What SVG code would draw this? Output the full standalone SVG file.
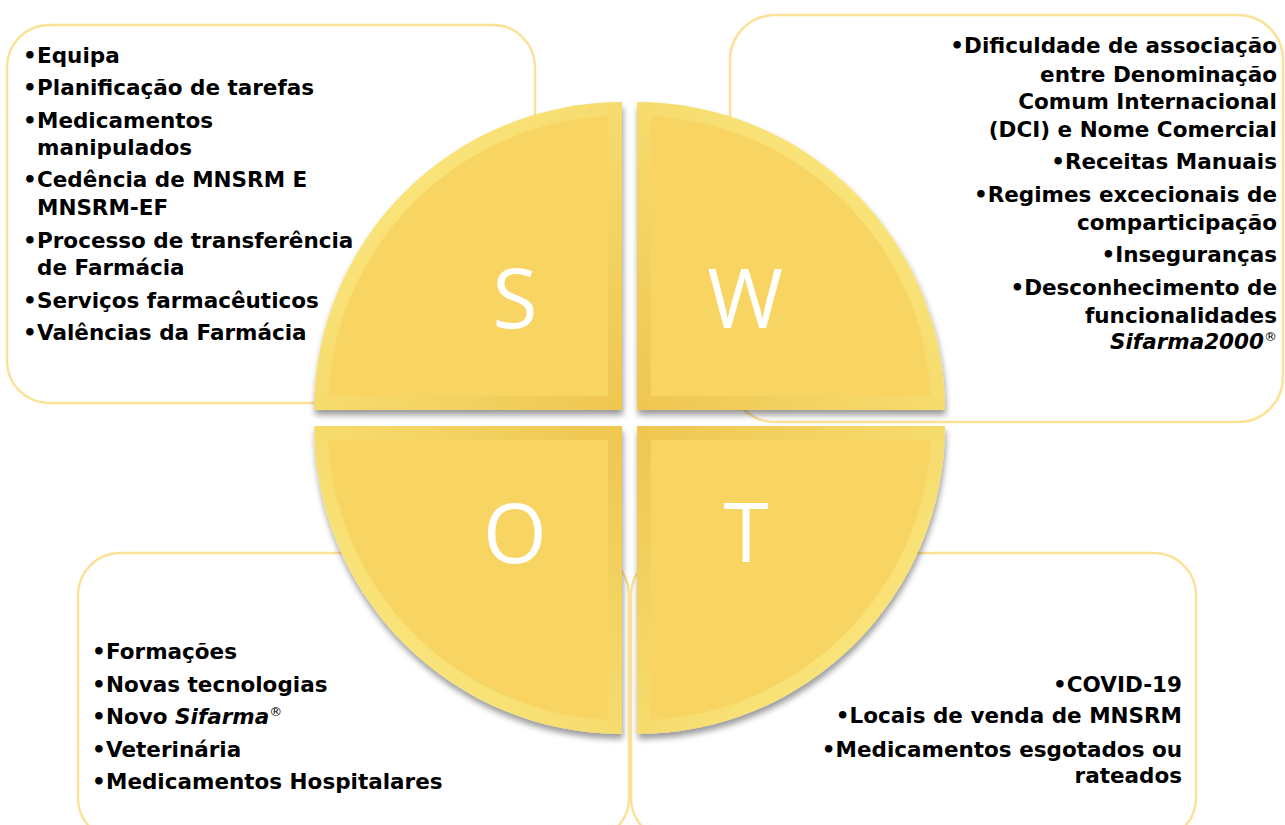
<svg xmlns="http://www.w3.org/2000/svg" width="1285" height="825" viewBox="0 0 1285 825">
<defs>
<style>
.box{fill:#fff;stroke:#FCE298;stroke-width:2.5}
.rim{stroke:none}
.face{fill:#F8D462}
.big{font-family:"Open Sans","Liberation Sans",sans-serif;font-size:82px;fill:#fff;text-anchor:middle}
.t{font-family:"DejaVu Sans","Liberation Sans",sans-serif;font-weight:bold;font-size:21.5px;fill:#000}
.r{text-anchor:end}
.it{font-style:italic}
.sup{font-size:13px;font-weight:normal}
</style>
<filter id="sh" x="-10%" y="-10%" width="120%" height="125%">
<feGaussianBlur in="SourceAlpha" stdDeviation="3"/>
<feOffset dx="1" dy="5" result="b"/>
<feComponentTransfer><feFuncA type="linear" slope="0.4"/></feComponentTransfer>
<feMerge><feMergeNode/><feMergeNode in="SourceGraphic"/></feMerge>
</filter>
<linearGradient id="gS" x1="0" y1="0" x2="1" y2="1">
<stop offset="0" stop-color="#FDF08A"/><stop offset="1" stop-color="#EFC650"/>
</linearGradient>
<linearGradient id="gW" x1="1" y1="0" x2="0" y2="1">
<stop offset="0" stop-color="#FDF08A"/><stop offset="1" stop-color="#EFC650"/>
</linearGradient>
<linearGradient id="gO" x1="0" y1="1" x2="1" y2="0">
<stop offset="0" stop-color="#FDF08A"/><stop offset="1" stop-color="#EFC650"/>
</linearGradient>
<linearGradient id="gT" x1="1" y1="1" x2="0" y2="0">
<stop offset="0" stop-color="#FDF08A"/><stop offset="1" stop-color="#EFC650"/>
</linearGradient>
</defs>
<rect width="1285" height="825" fill="#fff"/>
<g id="connectors"/>

<g id="node-S">
<rect class="box" x="7" y="25" width="528" height="378" rx="42"/>
<path class="rim" fill="url(#gS)" filter="url(#sh)" d="M622,410 L314,410 A308,308 0 0 1 622,102 Z"/>
<path class="face" d="M608,396 L328.3,396 A294,294 0 0 1 608,116.3 Z"/>
<text class="big" x="515" y="328">S</text>
<text class="t" x="23" y="63">•<tspan x="37">Equipa</tspan></text>
<text class="t" x="23" y="95">•<tspan x="37">Planificação de tarefas</tspan></text>
<text class="t" x="23" y="128">•<tspan x="37">Medicamentos</tspan></text>
<text class="t" x="37" y="155">manipulados</text>
<text class="t" x="23" y="187">•<tspan x="37">Cedência de MNSRM E</tspan></text>
<text class="t" x="37" y="215">MNSRM-EF</text>
<text class="t" x="23" y="248">•<tspan x="37">Processo de transferência</tspan></text>
<text class="t" x="37" y="275">de Farmácia</text>
<text class="t" x="23" y="308">•<tspan x="37">Serviços farmacêuticos</tspan></text>
<text class="t" x="23" y="340">•<tspan x="37">Valências da Farmácia</tspan></text>
</g>

<g id="node-W">
<rect class="box" x="730" y="15" width="553" height="407" rx="45"/>
<path class="rim" fill="url(#gW)" filter="url(#sh)" d="M637,410 L637,102 A308,308 0 0 1 945,410 Z"/>
<path class="face" d="M651,396 L651,116.3 A294,294 0 0 1 930.7,396 Z"/>
<text class="big" x="745" y="328">W</text>
<text class="t r" x="1277" y="53">•Dificuldade de associação</text>
<text class="t r" x="1277" y="82">entre Denominação</text>
<text class="t r" x="1277" y="109">Comum Internacional</text>
<text class="t r" x="1277" y="137">(DCI) e Nome Comercial</text>
<text class="t r" x="1277" y="169">•Receitas Manuais</text>
<text class="t r" x="1277" y="202">•Regimes excecionais de</text>
<text class="t r" x="1277" y="230">comparticipação</text>
<text class="t r" x="1277" y="262">•Inseguranças</text>
<text class="t r" x="1277" y="295">•Desconhecimento de</text>
<text class="t r" x="1277" y="323">funcionalidades</text>
<text class="t r" x="1277" y="349"><tspan class="it">Sifarma2000</tspan><tspan class="sup" dy="-8">®</tspan></text>
</g>

<g id="node-O">
<rect class="box" x="78" y="553" width="551" height="287" rx="42"/>
<path class="rim" fill="url(#gO)" filter="url(#sh)" d="M622,426 L622,734 A308,308 0 0 1 314,426 Z"/>
<path class="face" d="M608,440 L608,719.7 A294,294 0 0 1 328.3,440 Z"/>
<text class="big" x="515" y="563">O</text>
<text class="t" x="92" y="659">•<tspan x="106">Formações</tspan></text>
<text class="t" x="92" y="692">•<tspan x="106">Novas tecnologias</tspan></text>
<text class="t" x="92" y="724">•<tspan x="106">Novo </tspan><tspan class="it">Sifarma</tspan><tspan class="sup" dy="-8">®</tspan></text>
<text class="t" x="92" y="757">•<tspan x="106">Veterinária</tspan></text>
<text class="t" x="92" y="789">•<tspan x="106">Medicamentos Hospitalares</tspan></text>
</g>

<g id="node-T">
<rect class="box" x="631" y="553" width="565" height="287" rx="42"/>
<path class="rim" fill="url(#gT)" filter="url(#sh)" d="M637,426 L945,426 A308,308 0 0 1 637,734 Z"/>
<path class="face" d="M651,440 L930.7,440 A294,294 0 0 1 651,719.7 Z"/>
<text class="big" x="746" y="562">T</text>
<text class="t r" x="1182" y="692">•COVID-19</text>
<text class="t r" x="1182" y="723">•Locais de venda de MNSRM</text>
<text class="t r" x="1182" y="757">•Medicamentos esgotados ou</text>
<text class="t r" x="1182" y="783">rateados</text>
</g>
</svg>
